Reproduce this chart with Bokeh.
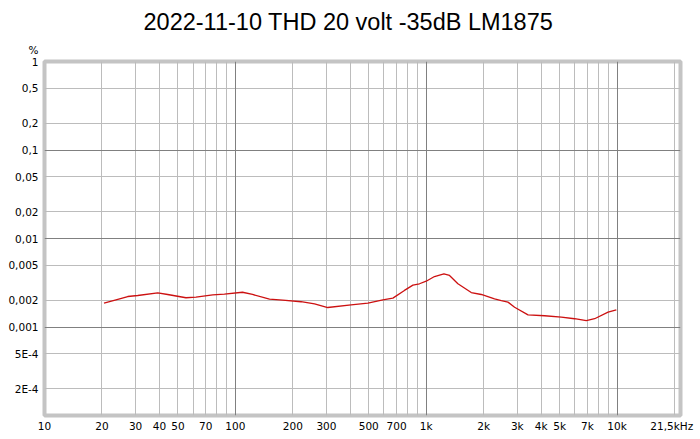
from bokeh.plotting import figure
from bokeh.models import FixedTicker, Grid, Title
from bokeh.embed import file_html
from bokeh.resources import INLINE

# ---- data ----
title_text = "2022-11-10 THD 20 volt -35dB LM1875"
y_unit = "%"

freq_hz = [20.5, 23.7, 27.3, 30.8, 39.2, 44.2, 55.1, 62.2, 76.1, 87.6,
           109, 123, 151, 177, 221, 260, 305, 404, 495, 593,
           669, 769, 852, 922, 1000, 1105, 1238, 1325, 1466, 1722,
           1943, 2281, 2474, 2682, 2905, 3416, 4173, 5105, 5993, 6902,
           7630, 8972, 9915]
thd_pct = [0.00186, 0.00203, 0.00221, 0.00227, 0.00243, 0.00233, 0.00214, 0.00217, 0.00231, 0.00235,
           0.00247, 0.00233, 0.00206, 0.00201, 0.00193, 0.00183, 0.00166, 0.00178, 0.00186, 0.00203,
           0.00212, 0.00259, 0.00297, 0.00308, 0.00329, 0.00372, 0.00399, 0.00382, 0.00308, 0.00245,
           0.00233, 0.00208, 0.00199, 0.00191, 0.00167, 0.00137, 0.00134, 0.00129, 0.00124, 0.00118,
           0.00124, 0.00147, 0.00156]

x_start, x_end = 10, 21500
y_start, y_end = 1e-4, 1

x_tick_values = [10, 20, 30, 40, 50, 70, 100, 200, 300, 500, 700,
                 1000, 2000, 3000, 4000, 5000, 7000, 10000, 21500]
x_tick_labels = ["10", "20", "30", "40", "50", "70", "100", "200", "300", "500", "700",
                 "1k", "2k", "3k", "4k", "5k", "7k", "10k", "21,5kHz"]

y_tick_values = [1, 0.5, 0.2, 0.1, 0.05, 0.02, 0.01, 0.005, 0.002, 0.001, 5e-4, 2e-4]
y_tick_labels = ["1", "0,5", "0,2", "0,1", "0,05", "0,02", "0,01", "0,005", "0,002", "0,001",
                 "5E-4", "2E-4"]

x_major_grid = [10, 100, 1000, 10000]
x_minor_grid = [20, 30, 40, 50, 60, 70, 80, 90,
                200, 300, 400, 500, 600, 700, 800, 900,
                2000, 3000, 4000, 5000, 6000, 7000, 8000, 9000, 20000]
y_major_grid = [1, 0.1, 0.01, 0.001]
y_minor_grid = [0.5, 0.2, 0.05, 0.02, 0.005, 0.002, 5e-4, 2e-4]

# ---- styling ----
LABEL_FONT = "DejaVu Sans"
TITLE_FONT = "Liberation Sans"
MINOR_C = "#bcbcbc"
MAJOR_C = "#808080"

p = figure(width=700, height=439, x_axis_type="log", y_axis_type="log",
           x_range=(x_start, x_end), y_range=(y_start, y_end),
           output_backend="svg", toolbar_location=None, title=None,
           min_border_left=44, min_border_right=20,
           min_border_top=61, min_border_bottom=24)
p.background_fill_color = "white"
p.border_fill_color = "white"
p.outline_line_color = "#c4c4c4"
p.outline_line_width = 4

# x axis: the last label sits left of the range end so it stays in the canvas
x_label_pos = x_tick_values[:-1] + [x_tick_values[-1] * 0.9]
p.xaxis.ticker = FixedTicker(ticks=x_label_pos, minor_ticks=[])
p.xaxis.major_label_overrides = {float(v): s for v, s in zip(x_label_pos, x_tick_labels)}
p.yaxis.ticker = FixedTicker(ticks=y_tick_values, minor_ticks=[])
p.yaxis.major_label_overrides = {float(v): s for v, s in zip(y_tick_values, y_tick_labels)}

for ax in (p.xaxis[0], p.yaxis[0]):
    ax.axis_line_color = None
    ax.major_tick_line_color = None
    ax.minor_tick_line_color = None
    ax.major_tick_out = 0
    ax.major_tick_in = 0
    ax.major_label_text_font = LABEL_FONT
    ax.major_label_text_font_size = "10.5px"
    ax.major_label_text_color = "black"
p.xaxis.major_label_standoff = 4
p.yaxis.major_label_standoff = 6

p.xgrid.ticker = FixedTicker(ticks=x_minor_grid, minor_ticks=[])
p.xgrid.grid_line_color = MINOR_C
p.ygrid.ticker = FixedTicker(ticks=y_minor_grid, minor_ticks=[])
p.ygrid.grid_line_color = MINOR_C
p.add_layout(Grid(dimension=0, ticker=FixedTicker(ticks=x_major_grid, minor_ticks=[]),
                  grid_line_color=MAJOR_C))
p.add_layout(Grid(dimension=1, ticker=FixedTicker(ticks=y_major_grid, minor_ticks=[]),
                  grid_line_color=MAJOR_C))

p.line(freq_hz, thd_pct, line_color="#cc1111", line_width=1.3)

# unit label just above the y axis, then the chart title above it
p.add_layout(Title(text=y_unit, align="left", offset=-16, standoff=11,
                   text_font=LABEL_FONT, text_font_size="10.5px",
                   text_font_style="normal", text_color="black"), "above")
p.add_layout(Title(text=title_text, align="left", offset=99, standoff=3,
                   text_font=TITLE_FONT, text_font_size="23.5px",
                   text_font_style="normal", text_color="black"), "above")

open("out.html", "w").write(file_html(p, INLINE))
